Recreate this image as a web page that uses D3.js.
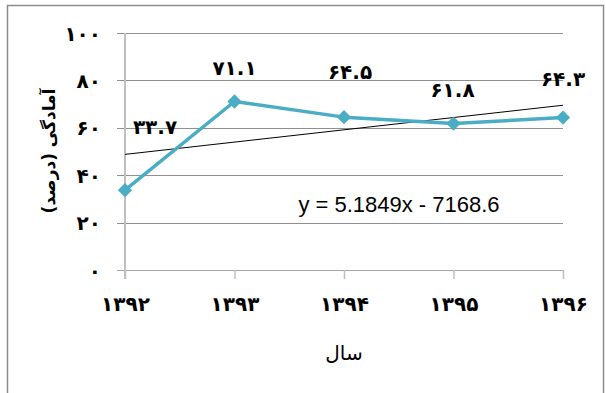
<!DOCTYPE html>
<html>
<head>
<meta charset="utf-8">
<script src="https://cdn.jsdelivr.net/npm/d3@7/dist/d3.min.js"></script>
<style>
  html, body { margin: 0; padding: 0; background: #fff; }
  svg { display: block; }
</style>
</head>
<body>
<svg id="chart" width="606" height="393"></svg>
<script>
// Readiness percentage by year (Solar Hijri)
const years = [1392, 1393, 1394, 1395, 1396];
const readiness = [33.7, 71.1, 64.5, 61.8, 64.3];
const yTicks = [0, 20, 40, 60, 80, 100];
// Linear trend fitted to the series: y = slope * x + intercept
const trendCoef = [5.1849, -7168.6];

const xTitle = "سال";
const yTitle = "آمادگی (درصد)";

// Offsets (px) of each value label from its point
const labelDy = [-63, -33, -45, -34, -39];
const labelDx = [30, 0, 6, -1, 0];

const faDigits = "۰۱۲۳۴۵۶۷۸۹";
const toFa = s => String(s).replace(/[0-9]/g, d => faDigits[+d]);

const svg = d3.select("#chart");
const faFont = "'DejaVu Sans', 'Noto Sans', sans-serif";
const numSize = 20;

// Outer chart frame
svg.append("rect")
  .attr("x", 7.5).attr("y", 5.5)
  .attr("width", 596).attr("height", 400)
  .attr("fill", "#fff").attr("stroke", "#8c8c8c").attr("stroke-width", 1.5);

const x = d3.scaleLinear().domain([1392, 1396]).range([125, 563]);
const y = d3.scaleLinear().domain([0, 100]).range([270, 33]);

// Horizontal gridlines
svg.append("g").selectAll("line").data(yTicks.filter(t => t > 0)).join("line")
  .attr("x1", 117).attr("x2", x(1396))
  .attr("y1", d => Math.round(y(d)) + 0.5).attr("y2", d => Math.round(y(d)) + 0.5)
  .attr("stroke", "#8f8f8f").attr("stroke-width", 1);

// Y axis labels
const yAxis = d3.axisLeft(y).tickValues(yTicks).tickSize(0).tickPadding(0)
  .tickFormat(d => toFa(d));
svg.append("g").attr("transform", "translate(101,0)").call(yAxis)
  .call(g => g.select(".domain").remove())
  .call(g => g.selectAll("text")
    .attr("font-family", faFont).attr("font-size", numSize).attr("font-weight", "bold")
    .attr("fill", "#000").attr("dy", "0.35em"));

// Baseline and category ticks
svg.append("line")
  .attr("x1", 117).attr("x2", x(1396))
  .attr("y1", Math.round(y(0)) + 0.5).attr("y2", Math.round(y(0)) + 0.5)
  .attr("stroke", "#a6a6a6").attr("stroke-width", 1);

const xAxis = d3.axisBottom(x).tickValues(years).tickSize(9).tickPadding(18)
  .tickFormat(d => toFa(d));
svg.append("g").attr("transform", `translate(0,${Math.round(y(0))})`).call(xAxis)
  .call(g => g.select(".domain").remove())
  .call(g => g.selectAll(".tick line").attr("stroke", "#bfbfbf").attr("stroke-width", 1.5))
  .call(g => g.selectAll("text")
    .attr("font-family", faFont).attr("font-size", numSize).attr("font-weight", "bold")
    .attr("fill", "#000"));

// Vertical axis line
svg.append("line")
  .attr("x1", x(1392)).attr("x2", x(1392))
  .attr("y1", y(100)).attr("y2", y(0) + 9)
  .attr("stroke", "#bfbfbf").attr("stroke-width", 2);

// Trend line
const trend = yr => trendCoef[0] * yr + trendCoef[1];
svg.append("line")
  .attr("x1", x(years[0])).attr("y1", y(trend(years[0])))
  .attr("x2", x(years[years.length - 1])).attr("y2", y(trend(years[years.length - 1])))
  .attr("stroke", "#000").attr("stroke-width", 1);

// Data series
const line = d3.line().x((d, i) => x(years[i])).y(d => y(d));
svg.append("path").datum(readiness)
  .attr("d", line).attr("fill", "none")
  .attr("stroke", "#4bacc6").attr("stroke-width", 3.5).attr("stroke-linejoin", "round");

svg.append("g").selectAll("path").data(readiness).join("path")
  .attr("d", d3.symbol(d3.symbolDiamond2, 130))
  .attr("transform", (d, i) => `translate(${x(years[i])},${y(d)})`)
  .attr("fill", "#4bacc6");

// Value labels
svg.append("g").selectAll("text").data(readiness).join("text")
  .attr("x", (d, i) => x(years[i]) + labelDx[i])
  .attr("y", (d, i) => y(d) + labelDy[i])
  .attr("dy", "0.35em")
  .attr("text-anchor", "middle")
  .attr("font-family", faFont).attr("font-size", numSize).attr("font-weight", "bold")
  .attr("fill", "#000")
  .text(d => toFa(d.toFixed(1)));

// Trend equation
svg.append("text")
  .attr("x", 399).attr("y", 212)
  .attr("text-anchor", "middle")
  .attr("font-family", "'Liberation Sans', Arial, sans-serif").attr("font-size", 22)
  .attr("fill", "#000")
  .text(`y = ${trendCoef[0]}x - ${Math.abs(trendCoef[1])}`);

// Axis titles
svg.append("text")
  .attr("x", 344).attr("y", 360)
  .attr("text-anchor", "middle").attr("direction", "rtl")
  .attr("font-family", faFont).attr("font-size", 20)
  .attr("fill", "#000").text(xTitle);

svg.append("text")
  .attr("transform", "translate(49,151) rotate(-90)")
  .attr("text-anchor", "middle").attr("direction", "rtl").attr("dy", "0.35em")
  .attr("font-family", faFont).attr("font-size", 17).attr("font-weight", "bold")
  .attr("fill", "#000").text(yTitle);
</script>
</body>
</html>
